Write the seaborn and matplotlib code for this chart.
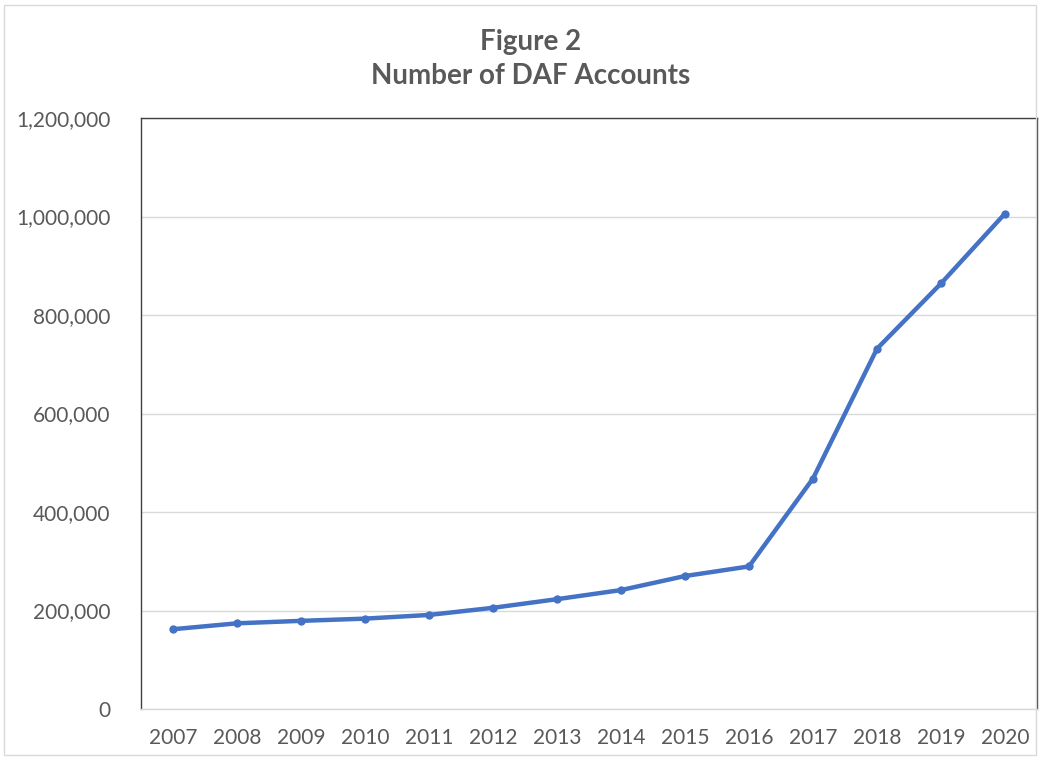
import matplotlib
matplotlib.use("Agg")
import matplotlib.pyplot as plt
import pandas as pd
import seaborn as sns
from matplotlib.patches import Rectangle
from matplotlib.ticker import FuncFormatter

# ── Data ──
years = [2007, 2008, 2009, 2010, 2011, 2012, 2013,
         2014, 2015, 2016, 2017, 2018, 2019, 2020]
accounts = [162000, 174000, 179000, 183500, 191000, 205500, 223000,
            241500, 270000, 289500, 468000, 731500, 864000, 1006000]
y_ticks = [0, 200000, 400000, 600000, 800000, 1000000, 1200000]
title_lines = ["Figure 2", "Number of DAF Accounts"]

df = pd.DataFrame({"year": years, "accounts": accounts})

sns.set_theme(style="white")
plt.rcParams["font.family"] = ["Lato", "DejaVu Sans"]

text_grey = "#595959"
grid_grey = "#d9d9d9"
line_blue = "#4472c4"

fig = plt.figure(figsize=(10.4, 7.57), dpi=100)
ax = fig.add_axes([0.1356, 0.0634, 0.8615, 0.7807])

sns.lineplot(data=df, x="year", y="accounts", ax=ax, color=line_blue,
             linewidth=3.2, marker="o", markersize=6,
             markeredgecolor=line_blue, markeredgewidth=0)

ax.set_xlim(years[0] - 0.5, years[-1] + 0.5)
ax.set_ylim(y_ticks[0], y_ticks[-1])
ax.set_xticks(years)
ax.set_xticklabels([str(y) for y in years])
ax.set_yticks(y_ticks)
ax.yaxis.set_major_formatter(FuncFormatter(lambda v, _: f"{int(v):,}"))
ax.set_xlabel("")
ax.set_ylabel("")

ax.grid(axis="y", color=grid_grey, linewidth=1)
ax.set_axisbelow(True)
ax.tick_params(axis="both", length=0, labelsize=15, labelcolor=text_grey)
ax.tick_params(axis="x", pad=14)
ax.tick_params(axis="y", pad=22)

for side in ["left", "top", "right"]:
    ax.spines[side].set_color("#404040")
    ax.spines[side].set_linewidth(1)
ax.spines["bottom"].set_color(grid_grey)
ax.spines["bottom"].set_linewidth(1)

fig.text(0.51, 0.944, title_lines[0], ha="center", va="center",
         fontsize=20, fontweight="bold", color=text_grey)
fig.text(0.51, 0.900, title_lines[1], ha="center", va="center",
         fontsize=20, fontweight="bold", color=text_grey)

# light chart-area border
fig.patches.append(Rectangle((0.004, 0.003), 0.992, 0.99, transform=fig.transFigure,
                             fill=False, edgecolor=grid_grey, linewidth=1))

fig.savefig("out.png", dpi=100)
